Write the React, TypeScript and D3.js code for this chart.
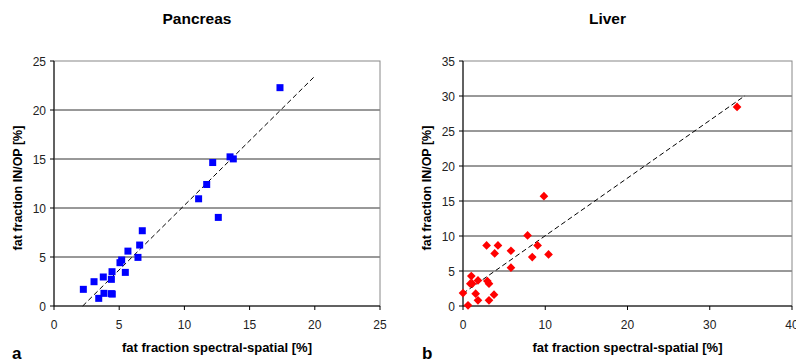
import React from 'react';
import * as d3 from 'd3';

// Pancreas: spectral-spatial vs IN/OP fat fraction
const pancreasX = [2.25, 3.07, 3.43, 3.78, 3.83, 4.4, 4.45, 4.4, 4.47, 5.06, 5.19, 5.47, 5.67, 6.44, 6.57, 6.77, 11.09, 11.71, 12.17, 12.6, 13.5, 13.75, 17.33];
const pancreasY = [1.7, 2.48, 0.78, 2.96, 1.29, 2.72, 3.5, 1.26, 1.22, 4.42, 4.69, 3.43, 5.6, 4.96, 6.22, 7.68, 10.94, 12.4, 14.64, 9.04, 15.22, 15.01, 22.28];
const pancreasFitX = [2.2, 20.07];
const pancreasFitY = [0, 23.54];
const pancreasTicksX = [0, 5, 10, 15, 20, 25];
const pancreasTicksY = [0, 5, 10, 15, 20, 25];

// Liver
const liverX = [0, 0.61, 1.01, 0.89, 1.13, 1.54, 1.82, 1.82, 2.87, 2.96, 3.16, 3.16, 3.85, 3.77, 4.25, 5.83, 5.83, 7.85, 8.42, 9.07, 9.84, 10.4, 33.32];
const liverY = [1.85, 0.1, 4.28, 3.19, 3.19, 1.76, 3.66, 0.81, 8.65, 3.57, 3.19, 0.81, 7.51, 1.62, 8.65, 7.89, 5.47, 10.08, 6.99, 8.65, 15.69, 7.37, 28.44];
const liverFitX = [0, 34.29];
const liverFitY = [1.8, 30.05];
const liverTicksX = [0, 10, 20, 30, 40];
const liverTicksY = [0, 5, 10, 15, 20, 25, 30, 35];

const font = 'Arial, "Liberation Sans", sans-serif';

type PanelProps = {
  left: number;
  right: number;
  title: string;
  letter: string;
  xs: number[];
  ys: number[];
  fitX: number[];
  fitY: number[];
  ticksX: number[];
  ticksY: number[];
  marker: 'square' | 'diamond';
  color: string;
  yLabelX: number;
  letterX: number;
};

const Panel = (p: PanelProps) => {
  const top = 61;
  const bottom = 306;
  const x = d3.scaleLinear().domain([p.ticksX[0], p.ticksX[p.ticksX.length - 1]]).range([p.left, p.right]);
  const y = d3.scaleLinear().domain([p.ticksY[0], p.ticksY[p.ticksY.length - 1]]).range([bottom, top]);
  const line = d3.line<number>().x((_, i) => x(p.fitX[i])).y((_, i) => y(p.fitY[i]));
  const diamond = d3.symbol().type(d3.symbolDiamond2).size(48)();
  const cx = (p.left + p.right) / 2;

  return (
    <g fontFamily={font}>
      <text x={cx - 20} y={24} textAnchor="middle" fontSize={15.5} fontWeight="bold">{p.title}</text>
      {/* grid */}
      {p.ticksY.slice(1, -1).map(t => (
        <line key={t} x1={p.left} x2={p.right} y1={y(t)} y2={y(t)} stroke="#333" strokeWidth={1} />
      ))}
      <rect x={p.left} y={top} width={p.right - p.left} height={bottom - top} fill="none" stroke="#888" strokeWidth={1} />
      <line x1={p.left} x2={p.left} y1={top} y2={bottom} stroke="#000" />
      <line x1={p.left} x2={p.right} y1={bottom} y2={bottom} stroke="#000" />
      {p.ticksY.map(t => (
        <g key={'y' + t}>
          <line x1={p.left - 4} x2={p.left} y1={y(t)} y2={y(t)} stroke="#000" />
          <text x={p.left - 8} y={y(t) + 4.5} textAnchor="end" fontSize={12} fill="#222">{t}</text>
        </g>
      ))}
      {p.ticksX.map(t => (
        <g key={'x' + t}>
          <line x1={x(t)} x2={x(t)} y1={bottom} y2={bottom + 4} stroke="#000" />
          <text x={x(t)} y={329} textAnchor="middle" fontSize={12} fill="#222">{t}</text>
        </g>
      ))}
      <path d={line(p.fitX) || ''} fill="none" stroke="#000" strokeWidth={1} strokeDasharray="5,3" />
      {p.xs.map((v, i) =>
        p.marker === 'square' ? (
          <rect key={i} x={x(v) - 3.5} y={y(p.ys[i]) - 3.5} width={7} height={7} fill={p.color} />
        ) : (
          <path key={i} d={diamond || ''} transform={`translate(${x(v)},${y(p.ys[i])})`} fill={p.color} />
        )
      )}
      <text x={cx} y={352} textAnchor="middle" fontSize={13} fontWeight="bold">fat fraction spectral-spatial [%]</text>
      <text transform={`translate(${p.yLabelX},${188}) rotate(-90)`} textAnchor="middle" fontSize={12.5} fontWeight="bold">fat fraction IN/OP [%]</text>
      <text x={p.letterX} y={359} fontSize={17} fontWeight="bold">{p.letter}</text>
    </g>
  );
};

const App = () => (
  <svg width={796} height={362} style={{ position: 'absolute', left: 0, top: 0, background: '#fff' }}>
    <rect width={796} height={362} fill="#fff" />
    <Panel left={54} right={380} title="Pancreas" letter="a" xs={pancreasX} ys={pancreasY}
      fitX={pancreasFitX} fitY={pancreasFitY} ticksX={pancreasTicksX} ticksY={pancreasTicksY}
      marker="square" color="#0000ff" yLabelX={22} letterX={12} />
    <Panel left={463} right={792} title="Liver" letter="b" xs={liverX} ys={liverY}
      fitX={liverFitX} fitY={liverFitY} ticksX={liverTicksX} ticksY={liverTicksY}
      marker="diamond" color="#ff0000" yLabelX={431} letterX={422} />
  </svg>
);

export default App;
